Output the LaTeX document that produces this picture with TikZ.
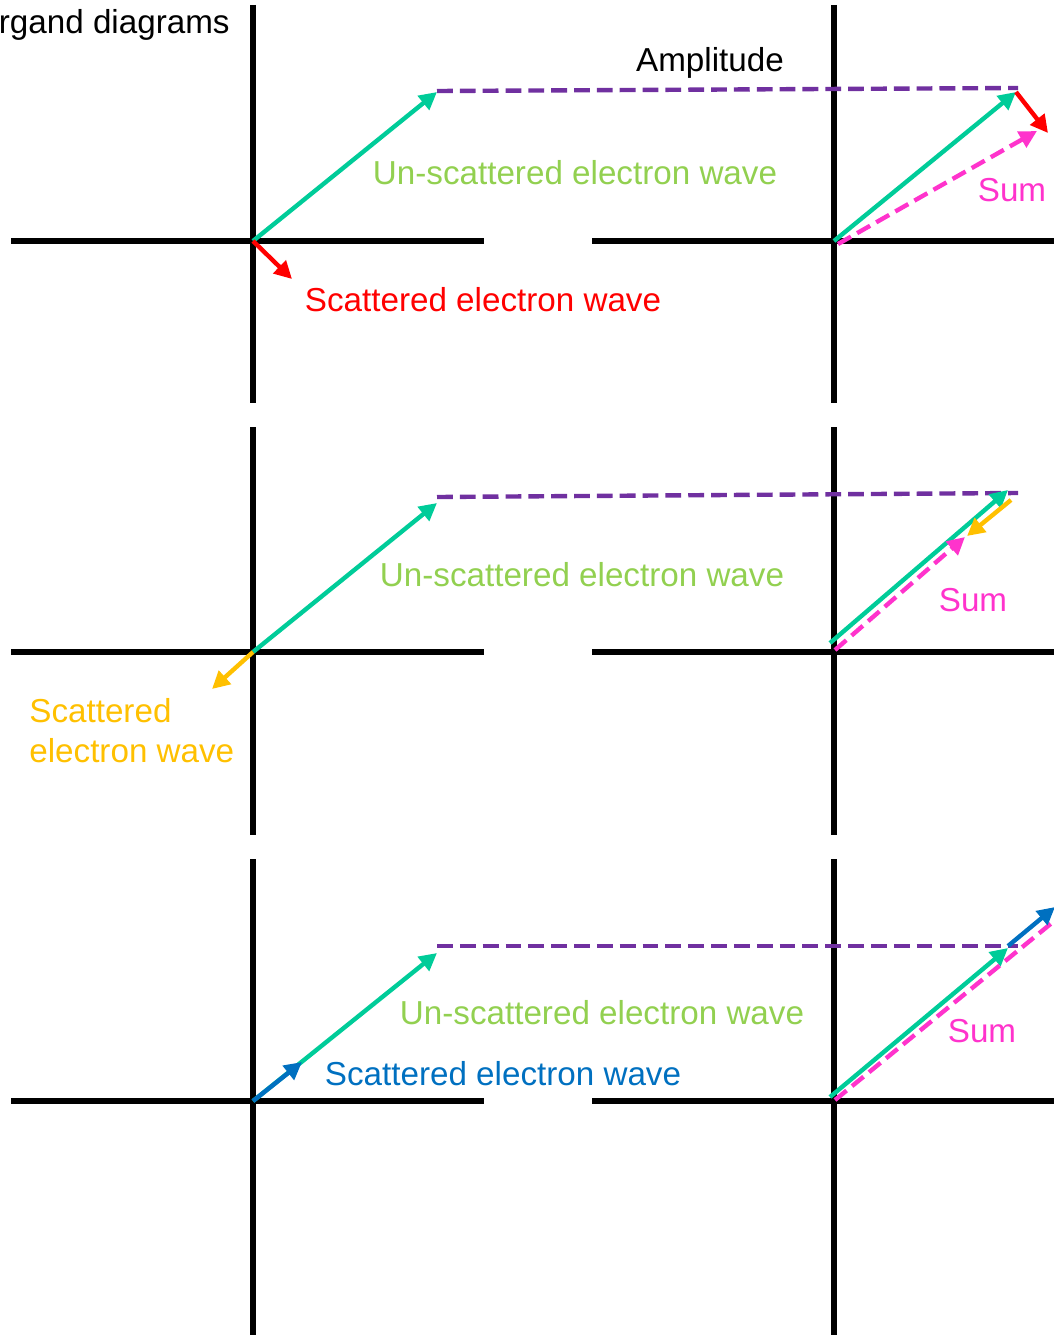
\documentclass[tikz,border=0pt]{standalone}
\usepackage{fontspec}
\setmainfont{Liberation Sans}
\usetikzlibrary{arrows.meta, positioning}
\definecolor{mygreen}{RGB}{0, 204, 153}
\definecolor{mylime}{RGB}{146, 208, 80}
\definecolor{mypurple}{RGB}{112, 48, 160}
\definecolor{myred}{RGB}{255, 0, 0}
\definecolor{myorange}{RGB}{255, 192, 0}
\definecolor{myblue}{RGB}{0, 112, 192}
\definecolor{mypink}{RGB}{255, 51, 204}

\begin{document}
\begin{tikzpicture}[x=0.02cm, y=-0.02cm,
    axis/.style={line width=2.9pt, black},
    vec/.style={line width=2.5pt, -{Triangle[length=10pt, width=10pt]}},
    ampline/.style={line width=2.5pt, mypurple, dash pattern=on 9pt off 4pt},
    sumvec/.style={vec, mypink, dash pattern=on 8.5pt off 4pt},
    lbl/.style={font=\fontsize{18.9}{22.7}\selectfont, inner sep=0pt}]
    \useasboundingbox (0,0) rectangle (1054,1335);
    \clip (0,0) rectangle (1054,1335);
    \node[lbl, anchor=east] (title) at (230,25) {rgand diagrams};

    % 1: scattered wave at 90 degrees
    \draw[axis] (253,5) -- (253,403);
    \draw[axis] (11,241) -- (484,241);
    \draw[axis] (834,5) -- (834,403);
    \draw[axis] (592,241) -- (1054,241);
    \coordinate (o1) at (253,241);
    \coordinate (u1) at (437,92);
    \coordinate (s1) at (292,279);
    \coordinate (p1) at (834,241);
    \coordinate (q1) at (1016,92);
    \coordinate (r1) at (1048,133);
    \coordinate (t1) at (838,244);
    \coordinate (m1) at (1037,131);
    \draw[ampline] (437,91) -- (1018,88);
    \draw[vec, mygreen] (o1) -- (u1);
    \draw[vec, myred] (o1) -- (s1);
    \draw[vec, mygreen] (p1) -- (q1);
    \draw[vec, myred] (q1) -- (r1);
    \draw[sumvec] (t1) -- (m1);
    \node[lbl] (amp1) at (710,63) {Amplitude};
    \node[lbl, mylime] (uns1) at (575,173) {Un-scattered electron wave};
    \node[lbl, myred] (sc1) at (483,300) {Scattered electron wave};
    \node[lbl, mypink] (sum1) at (1012,190) {Sum};

    % 2: scattered wave at 180 degrees
    \draw[axis] (253,427) -- (253,835);
    \draw[axis] (11,652) -- (484,652);
    \draw[axis] (834,427) -- (834,835);
    \draw[axis] (592,652) -- (1054,652);
    \coordinate (o2) at (253,652);
    \coordinate (u2) at (437,503);
    \coordinate (s2) at (212,689);
    \coordinate (p2) at (830,643);
    \coordinate (q2) at (1008,490);
    \coordinate (r2a) at (1011,500);
    \coordinate (r2) at (967,536);
    \coordinate (t2) at (835,650);
    \coordinate (m2) at (965,537);
    \draw[ampline] (437,497) -- (1018,493);
    \draw[vec, mygreen] (o2) -- (u2);
    \draw[vec, myorange] (o2) -- (s2);
    \draw[vec, mygreen] (p2) -- (q2);
    \draw[vec, myorange] (r2a) -- (r2);
    \draw[sumvec] (t2) -- (m2);
    \node[lbl, mylime] (uns2) at (582,575) {Un-scattered electron wave};
    \node[lbl, myorange, anchor=west, align=left] (sc2) at (29,731) {Scattered\\electron wave};
    \node[lbl, mypink] (sum2) at (973,600) {Sum};

    % 3: scattered wave in phase
    \draw[axis] (253,859) -- (253,1335);
    \draw[axis] (11,1101) -- (484,1101);
    \draw[axis] (834,859) -- (834,1335);
    \draw[axis] (592,1101) -- (1054,1101);
    \coordinate (o3) at (253,1101);
    \coordinate (u3) at (437,953);
    \coordinate (s3) at (302,1062);
    \coordinate (p3) at (830,1097);
    \coordinate (q3) at (1008,948);
    \coordinate (q3a) at (1008,946);
    \coordinate (r3) at (1055,907);
    \coordinate (t3) at (835,1100);
    \coordinate (m3) at (1075,904);
    \draw[ampline] (437,946) -- (1018,946);
    \draw[vec, mygreen] (o3) -- (u3);
    \draw[vec, myblue] (o3) -- (s3);
    \draw[vec, mygreen] (p3) -- (q3);
    \draw[sumvec] (t3) -- (m3);
    \draw[vec, myblue] (q3a) -- (r3);
    \node[lbl, mylime] (uns3) at (602,1013) {Un-scattered electron wave};
    \node[lbl, myblue] (sc3) at (503,1074) {Scattered electron wave};
    \node[lbl, mypink] (sum3) at (982,1031) {Sum};
\end{tikzpicture}
\end{document}
